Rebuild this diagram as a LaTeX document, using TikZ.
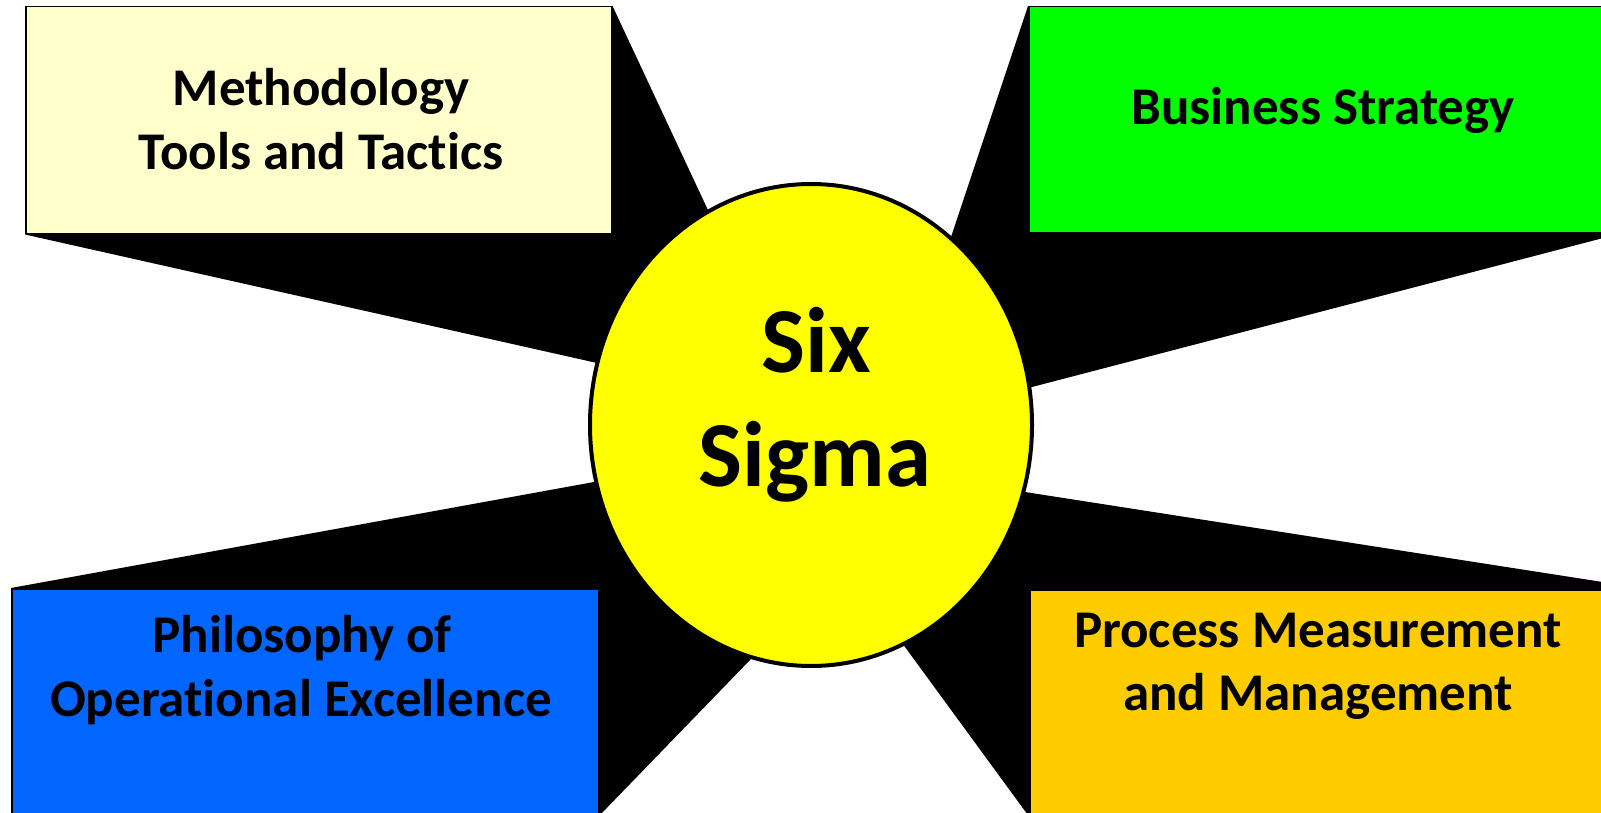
\documentclass[tikz,border=0pt]{standalone}
\usepackage{fontspec}
\setmainfont{Carlito}[Ligatures=NoCommon]
\usetikzlibrary{shapes.geometric,calc,backgrounds}
\pgfdeclarelayer{bottom}
\pgfsetlayers{bottom,background,main}
\definecolor{boxyellow}{HTML}{FFFFCC}
\definecolor{boxgreen}{HTML}{00FF00}
\definecolor{boxblue}{HTML}{0066FF}
\definecolor{boxorange}{HTML}{FFCC00}
\definecolor{ssyellow}{HTML}{FFFF00}
\tikzset{
  box/.style={draw=black, line width=1.5pt, inner sep=0pt, anchor=north west},
  lbl/.style={font=\bfseries\fontsize{53}{64}\selectfont, anchor=base, inner sep=0pt},
  big/.style={font=\bfseries\fontsize{93}{112}\selectfont, anchor=base, inner sep=0pt},
  wedge/.style={fill=black}
}
\begin{document}
\begin{tikzpicture}[x=1pt,y=-1pt]
\useasboundingbox (0,0) rectangle (1601,813);
\begin{pgfonlayer}{bottom}
\fill[white] (0,0) rectangle (1601,813);
\end{pgfonlayer}
% boxes
\node[box, fill=boxyellow, minimum width=586pt, minimum height=227pt] (tl) at (25,6) {};
\node[box, fill=boxgreen, minimum width=591pt, minimum height=226pt] (tr) at (1028,6) {};
\node[box, fill=boxblue, minimum width=587pt, minimum height=226pt] (bl) at (11,588) {};
\node[box, fill=boxorange, minimum width=617pt, minimum height=226pt] (br) at (1029,589) {};
% central ellipse
\node[draw=black, line width=4pt, fill=ssyellow, ellipse, inner sep=0pt,
      minimum width=442pt, minimum height=482pt] (ss) at (811,425) {};
% contact points on the ellipse
\coordinate (tlu) at (707,208);
\coordinate (tll) at (597,363);
\coordinate (tru) at (951,237);
\coordinate (trl) at (1032,387);
\coordinate (blu) at (594,482);
\coordinate (bll) at (750,660);
\coordinate (bru) at (1025,492);
\coordinate (brl) at (905,647);
% wedges behind
\begin{scope}[on background layer]
\fill[wedge] (tl.north east) -- ($(tl.north east)!1.15!(tlu)$) -- (ss.center)
  -- ($(tl.south west)!1.08!(tll)$) -- (tl.south west) -- cycle;
\fill[wedge] (tr.north west) -- ($(tr.north west)!1.15!(tru)$) -- (ss.center)
  -- ($(tr.south east)!1.08!(trl)$) -- (tr.south east) -- cycle;
\fill[wedge] (bl.north west) -- ($(bl.north west)!1.08!(blu)$) -- (ss.center)
  -- ($(bl.south east)!1.15!(bll)$) -- (bl.south east) -- cycle;
\fill[wedge] (br.north east) -- ($(br.north east)!1.08!(bru)$) -- (ss.center)
  -- ($(br.south west)!1.15!(brl)$) -- (br.south west) -- cycle;
\end{scope}
% texts
\node[lbl] (tlt1) at (321,106) {Methodology};
\node[lbl] (tlt2) at (321,170) {Tools and Tactics};
\node[lbl] (trt1) at (1323,125) {Business Strategy};
\node[lbl] (blt1) at (302,652) {Philosophy of};
\node[lbl] (blt2) at (301,716) {Operational Excellence};
\node[lbl] (brt1) at (1318,647) {Process Measurement};
\node[lbl] (brt2) at (1318,710) {and Management};
\node[big] (sst1) at (816,372) {Six};
\node[big] (sst2) at (815,486) {Sigma};
\end{tikzpicture}
\end{document}
